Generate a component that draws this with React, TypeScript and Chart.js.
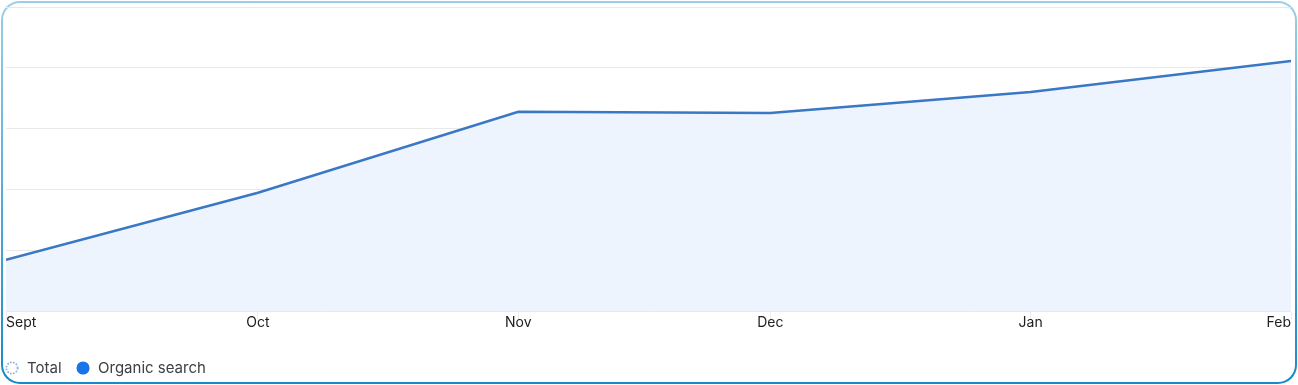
import React, { useEffect, useRef } from "react";
import { Chart, registerables } from "chart.js";

Chart.register(...registerables);

const monthLabels = ["Sept", "Oct", "Nov", "Dec", "Jan", "Feb"];
// day offsets of the first of each month from Sept 1
const dayOffsets = [0, 30, 61, 91, 122, 153];
const organicValues = [17.0, 39.0, 65.6, 65.2, 72.1, 82.3];
const totalValues = [17.0, 39.0, 65.6, 65.2, 72.1, 82.3];
const seriesNames = ["Total", "Organic search"];

const legendFill = ["#ffffff", "#1a73e8"];
const legendStroke = ["#8fb2de", "#1a73e8"];
const legendDash = [[1.6, 1.4], []];

export default function App() {
  const canvasRef = useRef<HTMLCanvasElement | null>(null);

  useEffect(() => {
    document.body.style.margin = "0";
    const canvas = canvasRef.current;
    if (!canvas) return;
    const chart = new Chart(canvas, {
      type: "line",
      data: {
        datasets: [
          {
            label: seriesNames[0],
            data: dayOffsets.map((d, i) => ({ x: d, y: totalValues[i] })),
            showLine: false,
            pointRadius: 0,
            fill: false,
          },
          {
            label: seriesNames[1],
            data: dayOffsets.map((d, i) => ({ x: d, y: organicValues[i] })),
            borderColor: "#3a77c5",
            borderWidth: 2.5,
            backgroundColor: "#eef4fd",
            fill: "origin",
            tension: 0,
            pointRadius: 0,
          },
        ],
      },
      options: {
        responsive: false,
        animation: false,
        devicePixelRatio: 1,
        layout: { padding: { left: -9.5, right: 7, top: 7, bottom: -0.5 } },
        plugins: {
          tooltip: { enabled: false },
          legend: {
            position: "bottom",
            align: "start",
            labels: {
              usePointStyle: true,
              boxWidth: 15,
              boxHeight: 8,
              padding: 14,
              color: "#3c4043",
              font: { family: "Inter", size: 15 },
              generateLabels: (c: any) =>
                c.data.datasets.map((ds: any, i: number) => ({
                  text: ds.label,
                  fillStyle: legendFill[i],
                  strokeStyle: legendStroke[i],
                  lineWidth: 1.8,
                  lineDash: legendDash[i],
                  pointStyle: "circle",
                  hidden: false,
                  datasetIndex: i,
                  fontColor: "#3c4043",
                })),
            },
          },
        },
        scales: {
          x: {
            type: "linear",
            min: dayOffsets[0],
            max: dayOffsets[dayOffsets.length - 1],
            afterBuildTicks: (scale: any) => {
              scale.ticks = dayOffsets.map((v) => ({ value: v }));
            },
            afterFit: (scale: any) => {
              scale.height = 35;
            },
            border: { display: false },
            grid: {
              drawOnChartArea: false,
              drawTicks: true,
              tickLength: 8,
              color: "#eeeeee",
            },
            ticks: {
              autoSkip: false,
              maxRotation: 0,
              align: "inner",
              padding: -5,
              color: "#202124",
              font: { family: "Inter", size: 14 },
              callback: (v: any) => monthLabels[dayOffsets.indexOf(Number(v))] ?? "",
            },
          },
          y: {
            min: 0,
            max: 100,
            afterFit: (scale: any) => {
              scale.width = 15.5;
            },
            border: { display: false },
            grid: { color: "#e9e9e9", drawTicks: false },
            ticks: { display: false, stepSize: 20 },
          },
        },
      },
    } as any);
    return () => chart.destroy();
  }, []);

  return (
    <div>
      <div
        style={{
          position: "fixed",
          left: 1,
          top: 1,
          width: 1296,
          height: 383,
          boxSizing: "border-box",
          border: "2px solid transparent",
          borderRadius: 19,
          background:
            "linear-gradient(#fff, #fff) padding-box, linear-gradient(to bottom, #9ccfe6, #1689c8) border-box",
        }}
      />
      <canvas
        ref={canvasRef}
        width={1298}
        height={385}
        style={{ position: "fixed", left: 0, top: 0, width: 1298, height: 385 }}
      />
    </div>
  );
}
